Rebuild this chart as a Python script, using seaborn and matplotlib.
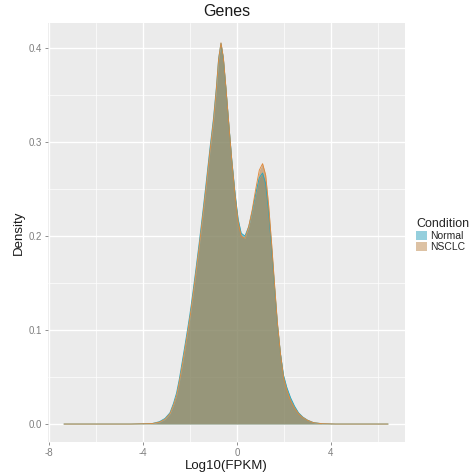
import numpy as np
import pandas as pd
import matplotlib
matplotlib.use("Agg")
import matplotlib.pyplot as plt
from matplotlib.patches import Patch
import seaborn as sns

# ---- data (Log10(FPKM) grid and density values) ----
log_fpkm = [-7.36, -4.5, -3.6, -3.3, -3.06, -2.85, -2.7, -2.57, -2.45, -2.33,
            -2.21, -2.1, -2.0, -1.88, -1.75, -1.6, -1.45, -1.3, -1.15, -1.0,
            -0.88, -0.78, -0.68, -0.58, -0.47, -0.35, -0.22, -0.08, 0.05, 0.18,
            0.34, 0.5, 0.65, 0.8, 0.95, 1.09, 1.22, 1.35, 1.48, 1.6,
            1.72, 1.85, 1.98, 2.12, 2.28, 2.45, 2.62, 2.8, 3.0, 3.25,
            3.6, 4.2, 6.43]
density_normal = [0, 0, 0.0006, 0.0025, 0.006, 0.012, 0.022, 0.033, 0.048, 0.066,
                  0.084, 0.101, 0.117, 0.139, 0.164, 0.194, 0.226, 0.259, 0.293, 0.325,
                  0.357, 0.389, 0.405, 0.389, 0.357, 0.32, 0.281, 0.245, 0.218, 0.203,
                  0.2, 0.21, 0.226, 0.245, 0.262, 0.267, 0.256, 0.225, 0.185, 0.145,
                  0.106, 0.075, 0.052, 0.039, 0.028, 0.019, 0.012, 0.0075, 0.0042, 0.0016,
                  0.0004, 0, 0]
density_nsclc = [0, 0, 0.0005, 0.002, 0.005, 0.011, 0.02, 0.03, 0.045, 0.062,
                 0.08, 0.097, 0.113, 0.135, 0.16, 0.19, 0.222, 0.255, 0.29, 0.322,
                 0.355, 0.388, 0.4055, 0.39, 0.358, 0.32, 0.28, 0.243, 0.215, 0.2,
                 0.1975, 0.21, 0.228, 0.25, 0.27, 0.277, 0.265, 0.232, 0.19, 0.148,
                 0.108, 0.075, 0.05, 0.036, 0.025, 0.017, 0.011, 0.007, 0.004, 0.0015,
                 0.0004, 0, 0]
conditions = ["Normal", "NSCLC"]
x_ticks = [-8, -4, 0, 4]
x_ticklabels = ["-8", "-4", "0", "4"]
y_ticks = [0.0, 0.1, 0.2, 0.3, 0.4]
y_ticklabels = ["0.0", "0.1", "0.2", "0.3", "0.4"]

df = pd.DataFrame({
    "x": log_fpkm * 2,
    "Density": density_normal + density_nsclc,
    "Condition": ["Normal"] * len(log_fpkm) + ["NSCLC"] * len(log_fpkm),
})

fill_cols = {"Normal": "#1496B4", "NSCLC": "#B47837"}
line_cols = {"Normal": "#2BA6BE", "NSCLC": "#E0893A"}
alpha = 0.55

sns.set_theme(style="darkgrid")
plt.rcParams["font.family"] = ["Liberation Sans", "DejaVu Sans"]

fig = plt.figure(figsize=(4.76, 4.72), dpi=100)
ax = fig.add_axes([48 / 476, 1 - 442 / 472, 357 / 476, 419 / 472])
ax.set_facecolor("#EBEBEB")

for cond in conditions:
    sub = df[df["Condition"] == cond]
    ax.fill_between(sub["x"], 0, sub["Density"], color=fill_cols[cond],
                    alpha=alpha, linewidth=0, zorder=2)
    sns.lineplot(data=sub, x="x", y="Density", color=line_cols[cond],
                 linewidth=0.65, ax=ax, legend=False, zorder=3, sort=False)

ax.set_xlim(-8.04, 7.15)
ax.set_ylim(-0.0191, 0.4266)
ax.set_xticks(x_ticks)
ax.set_xticklabels(x_ticklabels)
ax.set_yticks(y_ticks)
ax.set_yticklabels(y_ticklabels)
ax.set_xticks([-6, -2, 2, 6], minor=True)
ax.set_yticks([0.05, 0.15, 0.25, 0.35], minor=True)
ax.grid(which="major", color="white", linewidth=1.0)
ax.grid(which="minor", color="white", linewidth=0.5)
ax.set_axisbelow(True)
for s in ax.spines.values():
    s.set_visible(False)
ax.tick_params(axis="both", which="major", length=2.5, width=0.6, color="#7F7F7F",
               labelsize=7, labelcolor="#7F7F7F", pad=1.5, left=True, bottom=True)
ax.tick_params(axis="both", which="minor", length=0)

ax.set_xlabel("Log10(FPKM)", fontsize=9.5, color="#1A1A1A", labelpad=2)
ax.set_ylabel("Density", fontsize=9.5, color="#1A1A1A", labelpad=3)
ax.set_title("Genes", fontsize=11.5, color="#1A1A1A", pad=5)

handles = [Patch(facecolor=fill_cols[c], alpha=0.45, edgecolor="none") for c in conditions]
leg = ax.legend(handles, conditions, title="Condition", loc="center left",
                bbox_to_anchor=(409 / 476, 1 - 235 / 472), bbox_transform=fig.transFigure,
                frameon=False, fontsize=7.5, title_fontsize=9, handlelength=1.0,
                handleheight=1.0, labelspacing=0.05, handletextpad=0.3,
                borderpad=0.2, alignment="left")

fig.savefig("out.png", dpi=100)
